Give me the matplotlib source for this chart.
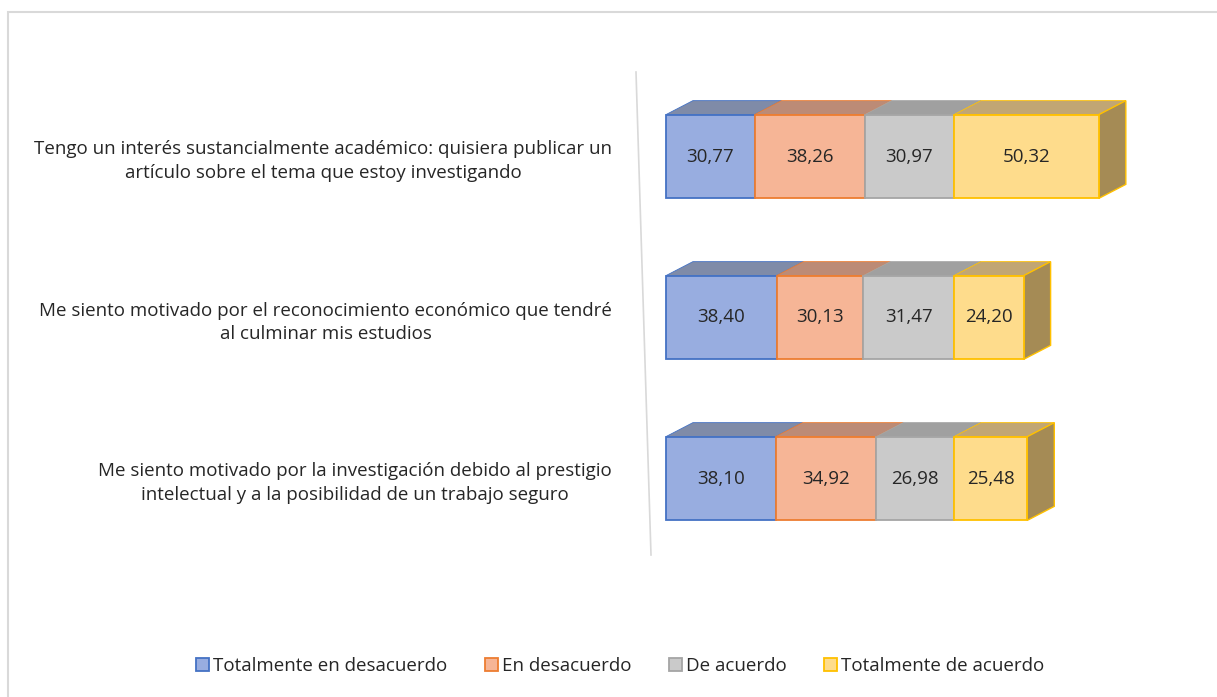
import matplotlib.pyplot as plt
from matplotlib.patches import Polygon, Rectangle
from matplotlib.lines import Line2D

categories = [
    "Tengo un interés sustancialmente académico: quisiera publicar un\nartículo sobre el tema que estoy investigando",
    "Me siento motivado por el reconocimiento económico que tendré\nal culminar mis estudios",
    "Me siento motivado por la investigación debido al prestigio\nintelectual y a la posibilidad de un trabajo seguro",
]
series = ["Totalmente en desacuerdo", "En desacuerdo", "De acuerdo", "Totalmente de acuerdo"]
values = [
    [30.77, 38.40, 38.10],
    [38.26, 30.13, 34.92],
    [30.97, 31.47, 26.98],
    [50.32, 24.20, 25.48],
]

front = ["#98ADE0", "#F6B596", "#CACACA", "#FEDC8C"]
edges = ["#4472C4", "#ED7D31", "#A5A5A5", "#FFC000"]
tops = ["#7F8BA8", "#BC8B76", "#A0A0A0", "#C1A674"]
side = "#A58B55"

plt.rcParams['font.family'] = ['Open Sans', 'DejaVu Sans']

W, H = 1217, 697
fig = plt.figure(figsize=(W / 100, H / 100), dpi=100)

# light frame of the chart area
fig.patches.append(Rectangle((8 / W, -0.1), 1.2, 1 - 12 / H + 0.1, transform=fig.transFigure,
                             fill=False, edgecolor="#D9D9D9", linewidth=1.5))
# back wall line (slightly slanted, like the 3D view)
fig.lines.append(Line2D([636 / W, 651 / W], [1 - 72 / H, 1 - 555 / H], transform=fig.transFigure,
                        color="#D9D9D9", linewidth=1.2))

# axes placed in pixels
ax_l, ax_r, ax_t, ax_b = 640, 1180, 76, 559
ax = fig.add_axes([ax_l / W, 1 - ax_b / H, (ax_r - ax_l) / W, (ax_b - ax_t) / H])
x0, x1 = -9, 178.5
ax.set_xlim(x0, x1)
ax.set_ylim(2.5, -0.5)
px_x = (ax_r - ax_l) / (x1 - x0)
px_y = (ax_b - ax_t) / 3.0

bar_h = 0.52
dx = 27 / px_x
dy = 14 / px_y

y = list(range(len(categories)))
left = [0.0] * len(categories)
for i, name in enumerate(series):
    bars = ax.barh(y, values[i], left=left, height=bar_h, color=front[i],
                   edgecolor=edges[i], linewidth=1.3, label=name, zorder=3)
    for j, b in enumerate(bars):
        xl, xr = left[j], left[j] + values[i][j]
        yt = y[j] - bar_h / 2
        yb = y[j] + bar_h / 2
        ax.add_patch(Polygon([(xl, yt), (xr, yt), (xr + dx, yt - dy), (xl + dx, yt - dy)],
                             closed=True, facecolor=tops[i], edgecolor=edges[i],
                             linewidth=0.6, zorder=2))
        if i == len(series) - 1:
            ax.add_patch(Polygon([(xr, yt), (xr + dx, yt - dy), (xr + dx, yb - dy), (xr, yb)],
                                 closed=True, facecolor=side, edgecolor=edges[i],
                                 linewidth=1.0, zorder=2))
        ax.text((xl + xr) / 2, y[j], f"{values[i][j]:.2f}".replace(".", ","),
                ha="center", va="center", fontsize=13.5, color="#262626", zorder=4)
    left = [left[j] + values[i][j] for j in range(len(categories))]

for s in ax.spines.values():
    s.set_visible(False)
ax.set_xticks([])
ax.set_yticks(y)
ax.set_yticklabels(categories, fontsize=13.5, color="#262626", linespacing=1.4)
ax.tick_params(axis="y", length=0, pad=20)
for lab in ax.get_yticklabels():
    lab.set_horizontalalignment("right")
    lab.set_multialignment("center")

handles, labels = ax.get_legend_handles_labels()
fig.legend(handles, labels, loc="center", bbox_to_anchor=(620 / W, 1 - 666 / H), ncol=4,
           frameon=False, fontsize=13.5, handlelength=0.7, handleheight=0.7,
           handletextpad=0.2, columnspacing=2.0, labelcolor="#262626")

plt.savefig("out.png", dpi=100)
